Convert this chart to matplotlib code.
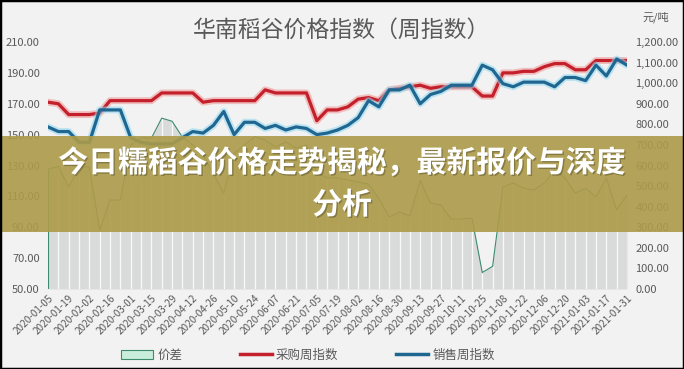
import matplotlib
matplotlib.use('Agg')
import matplotlib.pyplot as plt
import matplotlib.patheffects as pe
from matplotlib.patches import Patch, Rectangle
from matplotlib.lines import Line2D
import numpy as np
import pandas as pd

plt.rcParams['font.family'] = ['Noto Sans CJK SC', 'DejaVu Sans']

# weekly dates (tick labels every 2 weeks)
dates = pd.date_range('2020-01-05', periods=57, freq='7D')
date_labels = [d.strftime('%Y-%m-%d') for d in dates]

# 采购周指数 (left axis)
buy_idx = [171, 170, 163, 163, 163, 164, 172, 172, 172, 172,
           172, 177, 177, 177, 177, 171, 172, 172, 172, 172,
           172, 179, 177, 177, 177, 177, 159, 166, 166, 168,
           173, 174, 172, 179, 180, 181, 182, 180, 181, 181,
           181, 181, 175, 175, 190, 190, 191, 191, 194, 196,
           196, 192, 192, 198, 198, 198, 198]
# 销售周指数 (left axis)
sell_idx = [155, 152, 152, 145, 145, 166, 166, 166, 148, 145,
            144, 144, 144, 148, 152, 151, 156, 165, 150, 158,
            158, 154, 156, 153, 155, 154, 150, 151, 153, 156,
            161, 172, 168, 179, 179, 182, 170, 176, 178, 182,
            182, 182, 195, 192, 183, 181, 184, 184, 184, 181,
            187, 187, 185, 195, 188, 199, 195]
# 价差 (right axis, 元/吨)
spread = [583, 595, 495, 593, 593, 287, 432, 432, 700, 735,
          733, 830, 815, 738, 700, 650, 560, 466, 660, 700,
          740, 724, 690, 714, 685, 700, 565, 540, 540, 530,
          520, 510, 440, 350, 374, 355, 527, 418, 408, 340,
          340, 345, 80, 110, 496, 515, 490, 481, 515, 578,
          539, 466, 490, 447, 539, 384, 457]

left_ticks = [50, 70, 90, 110, 130, 150, 170, 190, 210]
right_ticks = [0, 100, 200, 300, 400, 500, 600, 700, 800, 900, 1000, 1100, 1200]

BG = '#f2f2f2'
TXT = '#595959'
RED = '#c4202c'
BLUE = '#1f6791'
GREEN = '#3d8b6e'

x = np.arange(len(dates))

fig = plt.figure(figsize=(6.84, 3.69), dpi=100, facecolor=BG)
ax = fig.add_axes([48/684, 1-289/369, (627-48)/684, (289-42)/369])
ax.set_facecolor(BG)

# area on the right-hand scale
ax.fill_between(x, 0, spread, color='#d9dbda', lw=0)
ax.vlines(x, 0, spread, colors='white', lw=0.9, alpha=0.85)
ax.plot(x, spread, color=GREEN, lw=0.8)
ax.vlines(x[0], 0, spread[0], colors=GREEN, lw=0.8)
ax.set_ylim(0, 1200)
ax.set_xlim(0, len(x) - 1)
ax.set_xticks(x[::2])
ax.set_xticklabels(date_labels[::2], rotation=45, ha='right',
                   rotation_mode='anchor', fontsize=7.2, color=TXT)
ax.tick_params(axis='x', length=0, pad=3)
for s in ax.spines.values():
    s.set_visible(False)

# index lines on the left-hand scale
ax2 = ax.twinx()
ax2.patch.set_visible(False)
ax2.plot(x, buy_idx, color='#f08a8a', lw=5, alpha=0.5, solid_capstyle='round')
ax2.plot(x, buy_idx, color=RED, lw=2.3)
ax2.plot(x, sell_idx, color='#8fd8f0', lw=5, alpha=0.55, solid_capstyle='round')
ax2.plot(x, sell_idx, color=BLUE, lw=2.3)
ax2.set_ylim(50, 210)
ax2.set_yticks(left_ticks)
ax2.set_yticklabels([f'{v:.2f}' for v in left_ticks])
ax2.yaxis.tick_left()
ax2.tick_params(axis='y', labelsize=8, colors=TXT, length=0, pad=6)
for s in ax2.spines.values():
    s.set_visible(False)

# right-hand ticks for the area (after twinx, which resets sides)
ax.yaxis.tick_right()
ax.set_yticks(right_ticks)
ax.set_yticklabels([f'{v:,.2f}' for v in right_ticks])
ax.tick_params(axis='y', labelsize=8, colors=TXT, length=0, pad=6,
               left=False, labelleft=False, right=True, labelright=True)

fig.text(0.5, 1-30/369, '华南稻谷价格指数（周指数）', ha='center', va='center',
         fontsize=16.5, color=TXT)
fig.text(656/684, 1-17/369, '元/吨', ha='center', va='center', fontsize=8, color=TXT)

handles = [Patch(facecolor='#c8eedb', edgecolor=GREEN, lw=0.8),
           Line2D([], [], color=RED, lw=2.5),
           Line2D([], [], color=BLUE, lw=2.5)]
fig.legend(handles, ['价差', '采购周指数', '销售周指数'], loc='center',
           bbox_to_anchor=(0.45, 1-355/369), ncol=3, frameon=False,
           fontsize=9, labelcolor=TXT, handlelength=2.6, handletextpad=0.3,
           columnspacing=4.6)

# overlay banner
fig.patches.append(Rectangle((0, 1-232/369), 1, 96/369, transform=fig.transFigure,
                             facecolor='#ad9b49', alpha=0.9, lw=0, zorder=5))
shadow = [pe.withSimplePatchShadow(offset=(1, -1), shadow_rgbFace='black', alpha=0.25)]
fig.text(0.5, 1-163/369, '今日糯稻谷价格走势揭秘，最新报价与深度', ha='center', va='center',
         fontsize=21.5, fontweight='bold', color='white', zorder=6, path_effects=shadow)
fig.text(0.5, 1-205/369, '分析', ha='center', va='center',
         fontsize=21.5, fontweight='bold', color='white', zorder=6, path_effects=shadow)

fig.patches.append(Rectangle((0, 0), 1, 1, transform=fig.transFigure, fill=False,
                             edgecolor='black', lw=2.5, zorder=10))

fig.savefig('out.png', dpi=100, facecolor=BG)
